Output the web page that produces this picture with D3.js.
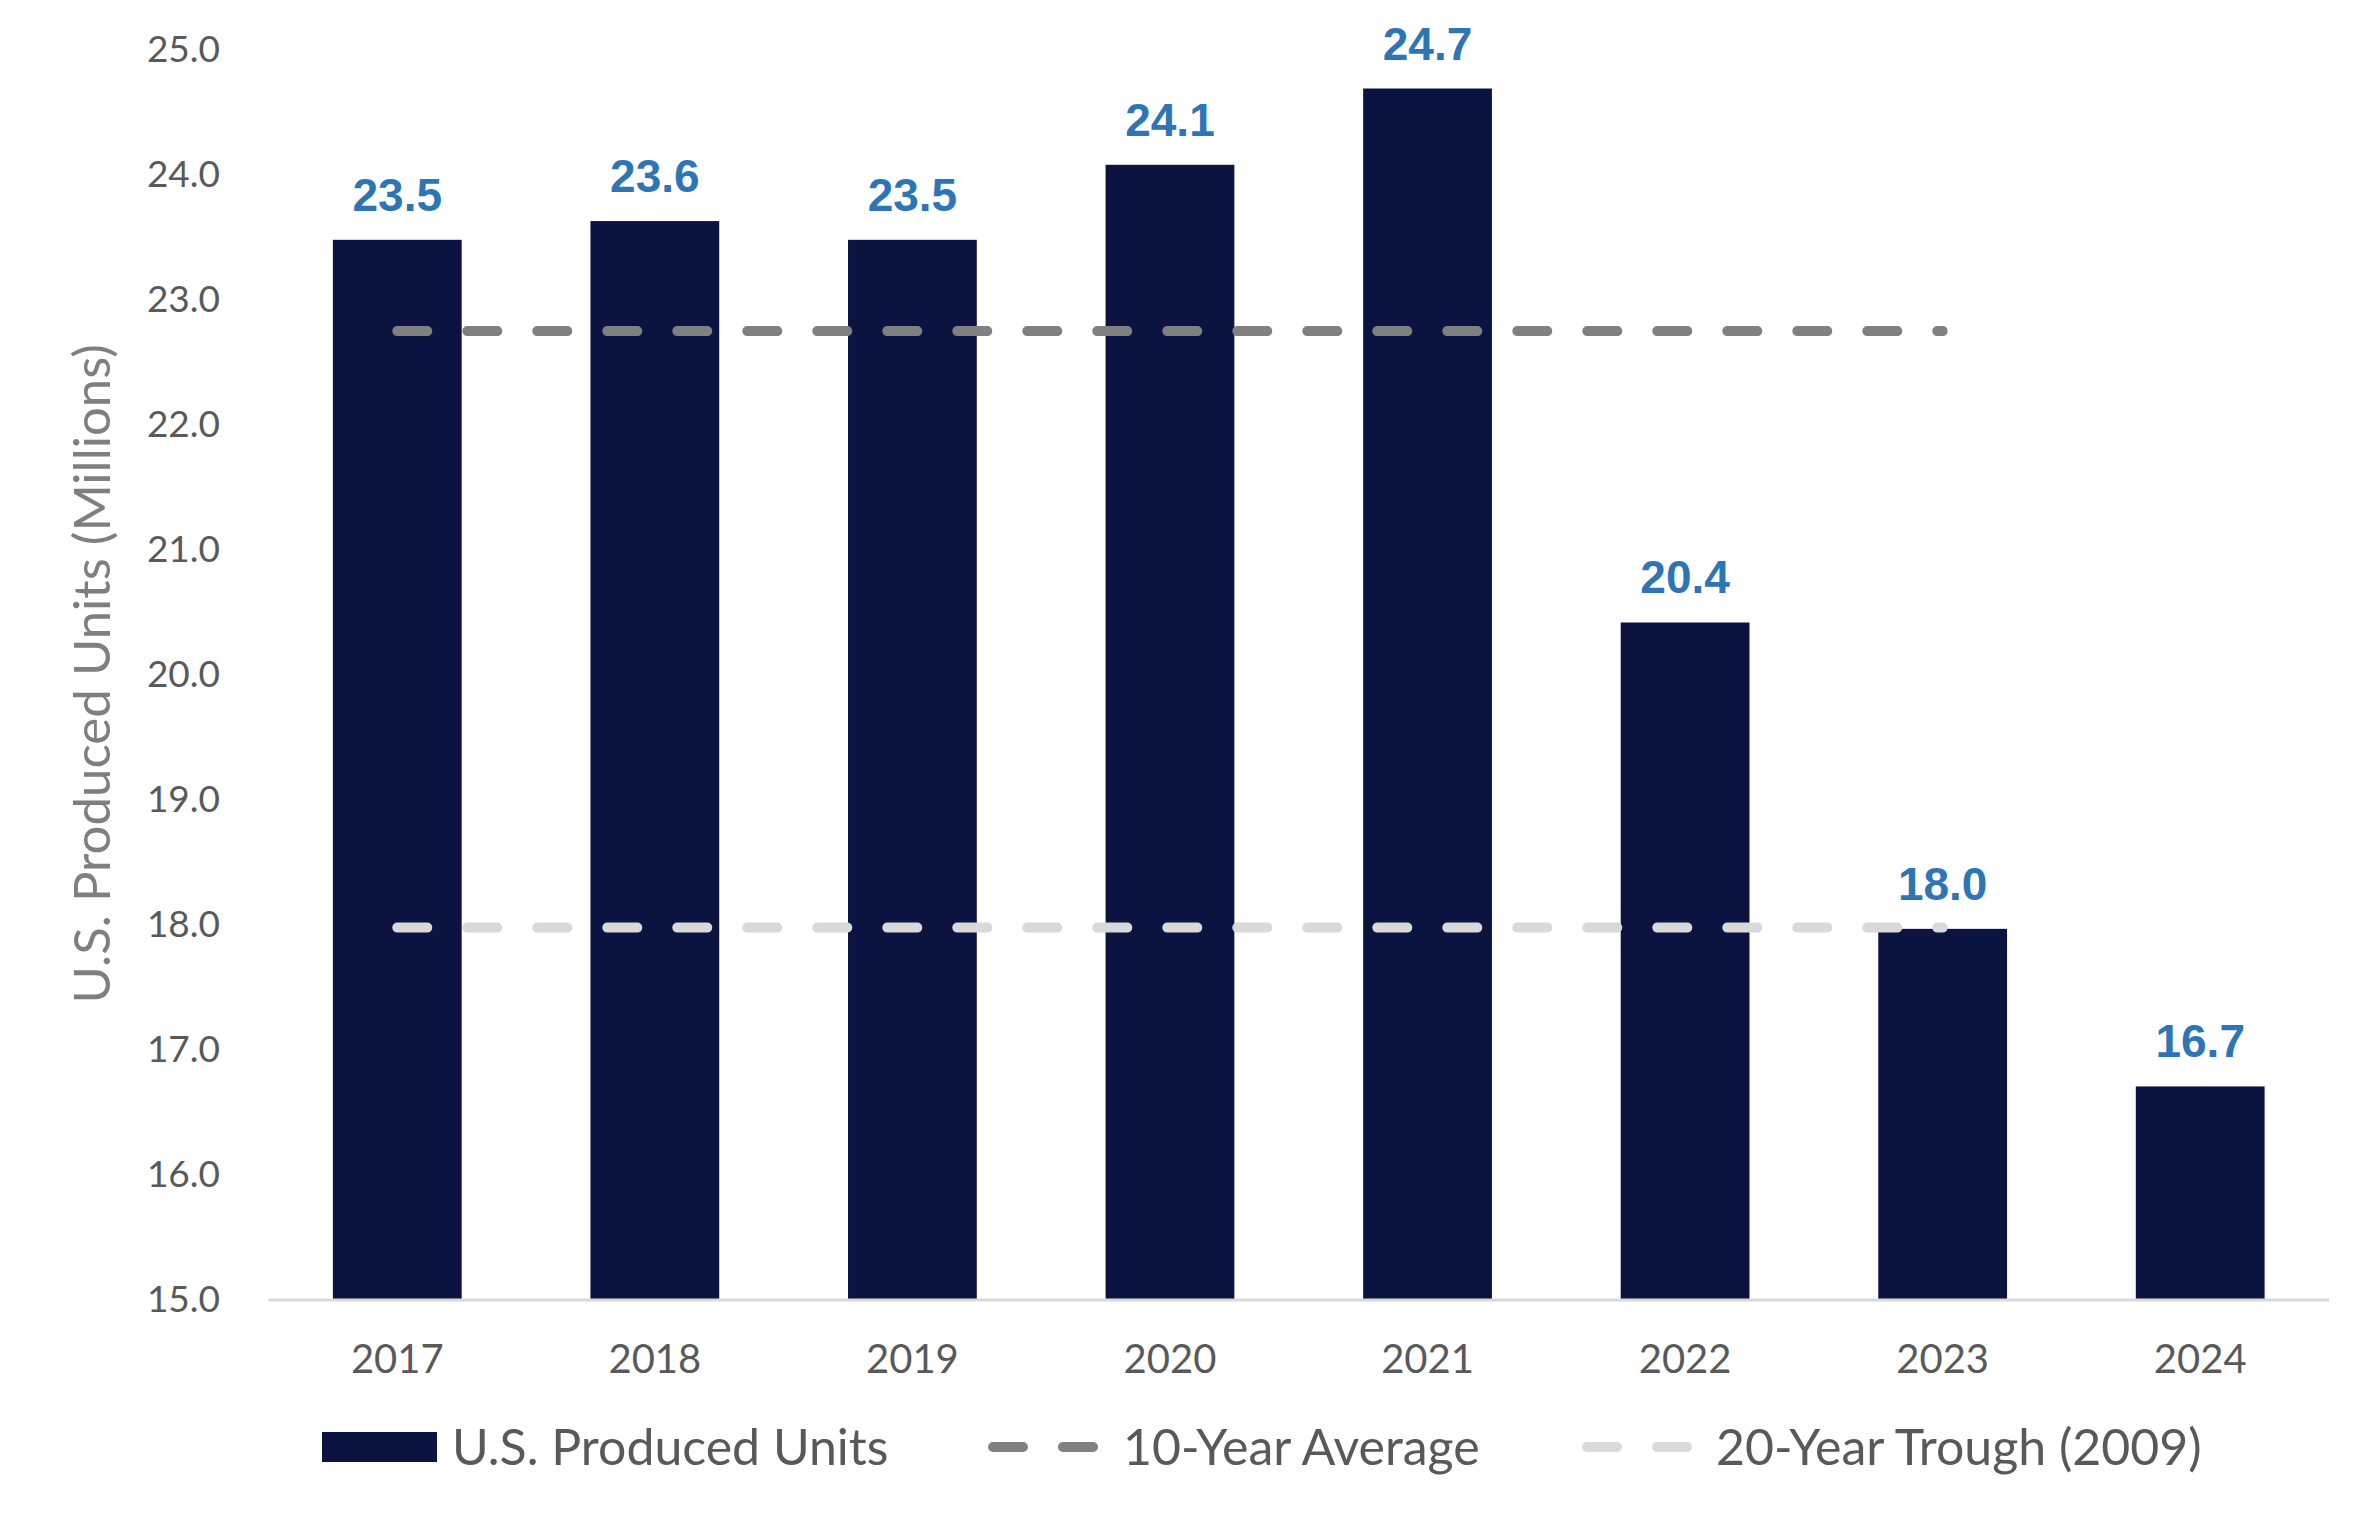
<!DOCTYPE html>
<html><head><meta charset="utf-8">
<script src="https://cdn.jsdelivr.net/npm/d3@7"></script>
<style>html,body{margin:0;padding:0;background:#fff;}</style>
</head><body>
<svg id="chart" width="2379" height="1537"></svg>
<script>
const categories = ["2017","2018","2019","2020","2021","2022","2023","2024"];
const producedUnits = [23.47, 23.62, 23.47, 24.07, 24.68, 20.41, 17.96, 16.70];
const producedLabels = ["23.5","23.6","23.5","24.1","24.7","20.4","18.0","16.7"];
const tenYearAverage = 22.74;
const twentyYearTrough = 17.97;
const refLineCategories = ["2017","2023"];
const yTicks = [15,16,17,18,19,20,21,22,23,24,25];
const legendLabels = ["U.S. Produced Units","10-Year Average","20-Year Trough (2009)"];

const svg = d3.select("#chart");
svg.append("rect").attr("width",2379).attr("height",1537).attr("fill","#fff");

const m = {left:268.5, right:2329, top:48.5, bottom:1299};
const x = d3.scaleBand().domain(categories).range([m.left, m.right]).paddingInner(0.5).paddingOuter(0.25);
const y = d3.scaleLinear().domain([15,25]).range([m.bottom, m.top]);

const tickFont = "Lato, 'Open Sans', sans-serif";

// Y axis (labels only)
const yAxis = d3.axisLeft(y).tickValues(yTicks).tickFormat(d3.format(".1f")).tickSize(0).tickPadding(0);
const gy = svg.append("g").attr("transform","translate(220,0)").call(yAxis);
gy.select(".domain").remove();
gy.selectAll("text").attr("fill","#595959").style("font-family",tickFont).style("font-size","37px").attr("dy","0.35em");

// Bars
svg.append("g").selectAll("rect").data(categories).join("rect")
  .attr("x", d => x(d))
  .attr("width", x.bandwidth())
  .attr("y", (d,i) => y(producedUnits[i]))
  .attr("height", (d,i) => y(15) - y(producedUnits[i]))
  .attr("fill", "#0b1340");

// Baseline
svg.append("line").attr("x1",m.left).attr("x2",m.right).attr("y1",y(15)+1).attr("y2",y(15)+1)
  .attr("stroke","#d9d9d9").attr("stroke-width",3);

// X axis
const xAxis = d3.axisBottom(x).tickSize(0).tickPadding(0);
const gx = svg.append("g").attr("transform",`translate(0,${y(15)})`).call(xAxis);
gx.select(".domain").remove();
gx.selectAll("text").attr("fill","#595959").style("font-family",tickFont).style("font-size","40px").attr("y",60).attr("dy","0.35em");

// Reference lines
const cx = c => x(c) + x.bandwidth()/2;
function refLine(v, color){
  svg.append("line")
    .attr("x1", cx(refLineCategories[0])).attr("x2", cx(refLineCategories[1]))
    .attr("y1", y(v)).attr("y2", y(v))
    .attr("stroke", color).attr("stroke-width", 10)
    .attr("stroke-linecap","round").attr("stroke-dasharray","30,40");
}
refLine(tenYearAverage, "#808080");
refLine(twentyYearTrough, "#d9d9d9");

// Data labels
svg.append("g").selectAll("text").data(categories).join("text")
  .attr("x", d => cx(d))
  .attr("y", (d,i) => y(producedUnits[i]) - 29)
  .attr("text-anchor","middle")
  .attr("fill","#2e75b6")
  .style("font-family","'Liberation Sans', Arial, sans-serif")
  .style("font-weight","bold")
  .style("font-size","46px")
  .text((d,i) => producedLabels[i]);

// Y axis title
svg.append("text")
  .attr("transform", `translate(110, ${(m.top+m.bottom)/2}) rotate(-90)`)
  .attr("text-anchor","middle")
  .attr("fill","#7f7f7f")
  .style("font-family",tickFont)
  .style("font-size","51px")
  .text("U.S. Produced Units (Millions)");

// Legend
const lg = svg.append("g");
const ly = 1447;
lg.append("rect").attr("x",322).attr("y",ly-15).attr("width",115).attr("height",30).attr("fill","#0b1340");
const legendText = (xp, t) => lg.append("text").attr("x",xp).attr("y",ly).attr("dy","0.35em")
  .attr("fill","#595959").style("font-family",tickFont).style("font-size","50px").text(t);
legendText(452, legendLabels[0]);
function legendLine(x0, color){
  lg.append("line").attr("x1",x0).attr("x2",x0+100).attr("y1",ly).attr("y2",ly)
    .attr("stroke",color).attr("stroke-width",10).attr("stroke-linecap","round").attr("stroke-dasharray","30,40");
}
legendLine(993, "#808080");
legendText(1123, legendLabels[1]);
legendLine(1587, "#d9d9d9");
legendText(1716, legendLabels[2]);
</script>
</body></html>
